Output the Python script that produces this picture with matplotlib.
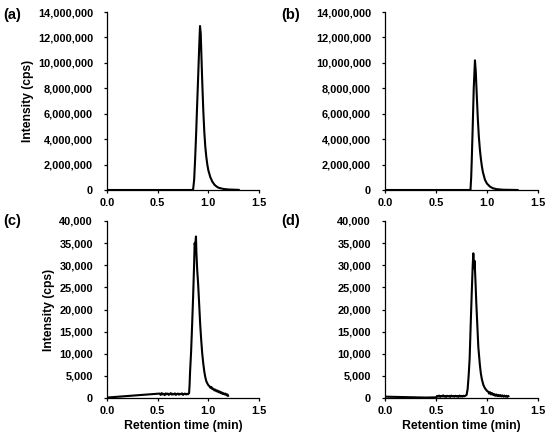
import matplotlib
matplotlib.use("Agg")
import matplotlib.pyplot as plt
from matplotlib.ticker import FuncFormatter, MultipleLocator

plt.rcParams['font.family'] = ['Liberation Sans', 'DejaVu Sans']
plt.rcParams['font.weight'] = 'bold'

# ---------------- data ----------------
a_x = [0.0, 0.5, 0.84, 0.85, 0.86, 0.87, 0.88, 0.89, 0.90, 0.91, 0.918, 0.925,
       0.93, 0.94, 0.95, 0.96, 0.97, 0.98, 0.99, 1.00, 1.02, 1.04, 1.06, 1.08,
       1.10, 1.15, 1.20, 1.30]
a_y = [0, 0, 0, 50000, 800000, 2500000, 4500000, 6800000, 9000000, 11300000,
       12900000, 12300000, 11000000, 8500000, 6300000, 4600000, 3400000, 2600000,
       2000000, 1550000, 1000000, 650000, 420000, 280000, 180000, 80000, 40000, 10000]

b_x = [0.0, 0.5, 0.838, 0.845, 0.85, 0.86, 0.87, 0.882, 0.89, 0.90, 0.91, 0.92,
       0.93, 0.94, 0.95, 0.96, 0.98, 1.00, 1.03, 1.06, 1.10, 1.16, 1.30]
b_y = [0, 0, 0, 1000000, 2200000, 5000000, 8000000, 10200000, 9300000, 7400000,
       5600000, 4200000, 3200000, 2450000, 1850000, 1400000, 800000, 500000,
       260000, 130000, 60000, 20000, 0]

c_x = [0.00, 0.52, 0.53, 0.54, 0.55, 0.56, 0.57, 0.58, 0.59, 0.60, 0.61, 0.62,
       0.63, 0.64, 0.65, 0.66, 0.67, 0.68, 0.69, 0.70, 0.71, 0.72, 0.73, 0.74,
       0.75, 0.76, 0.77, 0.78, 0.79, 0.80, 0.81,
       0.815, 0.82, 0.83, 0.84, 0.85, 0.86, 0.865, 0.870, 0.874, 0.878, 0.882,
       0.89, 0.90, 0.91, 0.92, 0.93, 0.94, 0.95, 0.96, 0.97, 0.98, 0.99, 1.00,
       1.01, 1.02, 1.03, 1.04, 1.05, 1.06, 1.07, 1.08, 1.09, 1.10, 1.11, 1.12,
       1.13, 1.14, 1.15, 1.16, 1.17, 1.18, 1.19, 1.195]
c_y = [100, 1000, 700, 1100, 800, 950, 650, 1050, 850, 1000, 700, 900,
       1100, 750, 950, 800, 1050, 700, 900, 1000, 750, 950, 850, 1050,
       700, 900, 1000, 800, 950, 850, 1100,
       3000, 6000, 10500, 16500, 23000, 30500, 35000, 34200, 35500, 36500, 33000,
       29000, 25500, 21000, 16500, 13000, 10000, 7800, 6000, 4700, 3800, 3300, 2900,
       2700, 2300, 2500, 2000, 2100, 1700, 1900, 1500, 1700, 1300, 1500, 1100,
       1300, 900, 1100, 800, 1000, 600, 800, 500]

d_x = [0.00, 0.10, 0.20, 0.30, 0.40, 0.50, 0.51, 0.52, 0.53, 0.54, 0.55, 0.56,
       0.57, 0.58, 0.59, 0.60, 0.61, 0.62, 0.63, 0.64, 0.65, 0.66, 0.67, 0.68,
       0.69, 0.70, 0.71, 0.72, 0.73, 0.74, 0.75, 0.76, 0.77, 0.78, 0.79, 0.80,
       0.81, 0.82, 0.83, 0.84, 0.85, 0.86, 0.866, 0.870, 0.874, 0.878, 0.886,
       0.895, 0.905, 0.915, 0.93, 0.94, 0.95, 0.965, 0.98, 1.00, 1.013,
       1.02, 1.03, 1.04, 1.05, 1.06, 1.07, 1.08, 1.09, 1.10, 1.11, 1.12, 1.13,
       1.14, 1.15, 1.16, 1.17, 1.18, 1.19, 1.20, 1.21]
d_y = [300, 250, 200, 150, 100, 150, 450, 300, 550, 250, 450, 350,
       600, 300, 450, 250, 500, 350, 450, 250, 550, 350, 450, 300,
       500, 350, 450, 250, 550, 350, 450, 300, 500, 400, 550, 700,
       2000, 5000, 9000, 16500, 23500, 30000, 32700, 30500, 29300, 31000, 27000,
       21500, 16500, 11500, 7500, 5500, 4200, 2900, 2200, 1600, 1400,
       1000, 1300, 800, 1100, 700, 900, 500, 800, 450, 700, 400, 650,
       350, 600, 300, 550, 300, 500, 250, 400]

panel_labels = ['(a)', '(b)', '(c)', '(d)']
x_ticks = [0.0, 0.5, 1.0, 1.5]
y_max_top = 14000000
y_step_top = 2000000
y_max_bot = 40000
y_step_bot = 5000
x_label = 'Retention time (min)'
y_label = 'Intensity (cps)'

# ---------------- figure ----------------
fig = plt.figure(figsize=(5.5, 4.37), dpi=100)
W, H = 550.0, 437.0

def make_ax(l, r, t, b):
    return fig.add_axes([l / W, 1 - b / H, (r - l) / W, (b - t) / H])

ax_a = make_ax(107, 259, 12, 190)
ax_b = make_ax(385, 538, 12, 190)
ax_c = make_ax(107, 259, 221, 398)
ax_d = make_ax(385, 538, 221, 398)

series = [(ax_a, a_x, a_y, y_max_top, y_step_top),
          (ax_b, b_x, b_y, y_max_top, y_step_top),
          (ax_c, c_x, c_y, y_max_bot, y_step_bot),
          (ax_d, d_x, d_y, y_max_bot, y_step_bot)]

fmt = FuncFormatter(lambda v, p: f"{v:,.0f}")
xfmt = FuncFormatter(lambda v, p: f"{v:.1f}")

for ax, xs, ys, ymax, ystep in series:
    ax.plot(xs, ys, color='black', lw=1.5, solid_joinstyle='round')
    ax.set_xlim(0, 1.5)
    ax.set_ylim(0, ymax)
    ax.set_xticks(x_ticks)
    ax.xaxis.set_major_formatter(xfmt)
    ax.yaxis.set_major_locator(MultipleLocator(ystep))
    ax.yaxis.set_major_formatter(fmt)
    for s in ['top', 'right']:
        ax.spines[s].set_visible(False)
    for s in ['left', 'bottom']:
        ax.spines[s].set_linewidth(0.9)
    ax.tick_params(axis='both', direction='out', length=2.5, width=0.9,
                   labelsize=7.9)
    ax.tick_params(axis='y', pad=7.5)
    ax.tick_params(axis='x', pad=3.5)
    for lab in ax.get_xticklabels() + ax.get_yticklabels():
        lab.set_fontweight('bold')

for ax in (ax_a, ax_c):
    ax.set_ylabel(y_label, fontsize=8.7, fontweight='bold', labelpad=3)
for ax in (ax_c, ax_d):
    ax.set_xlabel(x_label, fontsize=8.8, fontweight='bold', labelpad=3)

label_pos = [(3, 15), (281, 15), (3, 221), (281, 221)]
for txt, (px, py) in zip(panel_labels, label_pos):
    fig.text(px / W, 1 - py / H, txt, fontsize=10.5, fontweight='bold',
             ha='left', va='center')

fig.savefig('out.png', dpi=100)
